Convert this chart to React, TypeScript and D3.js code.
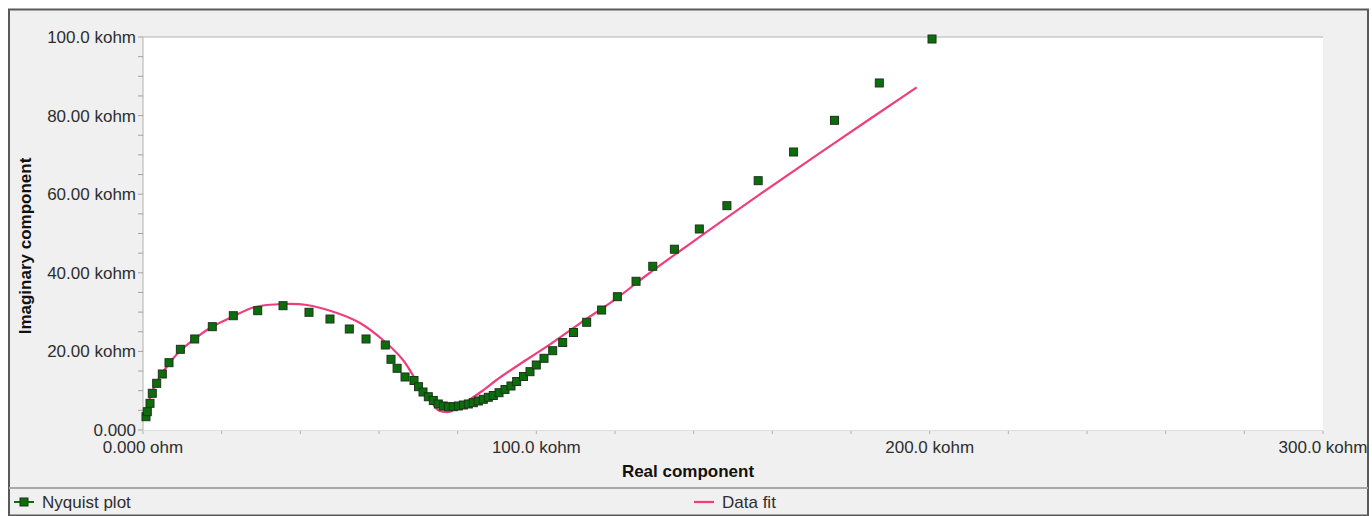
import React from "react";
import * as d3 from "d3";

// Nyquist plot data (kohm)
const nyquistRe = [
  0.76, 1.09, 1.78, 2.36, 3.48, 4.91, 6.61, 9.5, 13.14, 17.62, 22.96, 29.16, 35.6,
  42.2, 47.54, 52.45, 56.7, 61.6, 63.05, 64.6, 66.62, 68.9, 70.05, 71.19, 72.54,
  73.81, 75.08, 76.35, 77.62, 78.9, 80.17, 81.44, 82.71, 83.98, 85.25, 86.52, 87.79,
  89.06, 90.51, 92.03, 93.56, 95.0, 96.73, 98.39, 99.99, 101.95, 104.16, 106.7,
  109.45, 112.8, 116.6, 120.6, 125.35, 129.6, 135.1, 141.44, 148.45, 156.4, 165.4,
  175.8, 187.2, 200.6,
];
const nyquistIm = [
  3.38, 4.66, 6.79, 9.34, 11.88, 14.25, 17.13, 20.53, 23.16, 26.29, 29.08, 30.36, 31.63,
  29.95, 28.24, 25.7, 23.16, 21.63, 17.99, 15.7, 13.49, 12.6, 11.02, 9.67, 8.47,
  7.51, 6.62, 6.11, 5.93, 5.93, 6.11, 6.36, 6.62, 6.95, 7.38, 7.81, 8.32,
  8.78, 9.49, 10.31, 11.2, 12.34, 13.61, 14.84, 16.54, 18.24, 20.18, 22.26,
  24.81, 27.41, 30.53, 33.92, 37.84, 41.65, 46.0, 51.15, 57.08, 63.44, 70.74,
  78.8, 88.3, 99.49,
];

// Data fit curve (kohm)
const fitRe = [
  0.69, 1.27, 2.03, 3.05, 4.58, 6.36, 8.9, 12.46, 17.03, 22.63, 28.47, 35.6, 41.7,
  49.3, 55.17, 61.0, 66.1, 70.4, 72.97, 75.0, 76.27, 78.05, 80.6, 85.68, 90.76,
  95.85, 102.6, 111.1, 119.6, 128.1, 136.5, 145.0, 157.0, 175.5, 196.7,
];
const fitIm = [
  3.31, 6.36, 8.91, 11.45, 13.99, 16.54, 19.59, 22.65, 25.95, 28.75, 31.3, 32.06, 31.81,
  29.77, 27.23, 22.9, 17.81, 11.02, 7.63, 5.09, 4.66, 4.66, 6.11, 9.54, 13.36,
  16.79, 21.2, 27.15, 32.9, 39.44, 45.55, 51.6, 60.1, 72.8, 87.2,
];

const xTickValues = [0, 100, 200, 300];
const xTickLabels = ["0.000 ohm", "100.0 kohm", "200.0 kohm", "300.0 kohm"];
const yTickValues = [0, 20, 40, 60, 80, 100];
const yTickLabels = ["0.000", "20.00 kohm", "40.00 kohm", "60.00 kohm", "80.00 kohm", "100.0 kohm"];

const FONT = "'Liberation Sans', Arial, sans-serif";
const GREEN = "#0b6e0b";
const GREEN_EDGE = "#1f331f";
const PINK = "#ee3f7c";
const FS = 17;

export default function App() {
  const W = 1372;
  const H = 516;
  const m = { left: 143, top: 37, right: 1323, bottom: 430 };
  const x = d3.scaleLinear().domain([0, 300]).range([m.left, m.right]);
  const y = d3.scaleLinear().domain([0, 100]).range([m.bottom, m.top]);

  const fitIdx = d3.range(fitRe.length);
  const line = d3
    .line<number>()
    .x((i) => x(fitRe[i]))
    .y((i) => y(fitIm[i]))
    .curve(d3.curveCatmullRom.alpha(0.5));

  const xMinor = d3.range(0, 301, 20);
  const yMinor = d3.range(0, 101, 5);
  const ms = 8;

  return (
    <svg
      width={W}
      height={H}
      style={{ position: "absolute", left: 0, top: 0, display: "block" }}
      fontFamily={FONT}
    >
      <rect x={0} y={0} width={W} height={H} fill="#ffffff" />
      {/* outer frame */}
      <rect x={9} y={9.5} width={1359} height={506} fill="#f0f0f0" stroke="#5a5a5a" strokeWidth={2} />
      {/* plot area */}
      <rect x={m.left} y={m.top} width={m.right - m.left} height={m.bottom - m.top} fill="#ffffff" />
      <line x1={m.left} x2={m.right} y1={m.top} y2={m.top} stroke="#c8c8c8" strokeWidth={1.5} />
      <line x1={m.left} x2={m.left} y1={m.top} y2={m.bottom} stroke="#c8c8c8" strokeWidth={1.5} />
      <line x1={m.left} x2={m.right} y1={m.bottom + 0.5} y2={m.bottom + 0.5} stroke="#dedede" strokeWidth={1} />

      {/* y minor ticks */}
      {yMinor.map((v) => (
        <line key={"yt" + v} x1={m.left - 5} x2={m.left} y1={y(v)} y2={y(v)} stroke="#a0a0a0" strokeWidth={1} />
      ))}
      {/* x minor ticks */}
      {xMinor.map((v) => (
        <line key={"xt" + v} x1={x(v)} x2={x(v)} y1={m.bottom + 1} y2={m.bottom + 4} stroke="#b0b0b0" strokeWidth={1} />
      ))}

      {/* y tick labels */}
      {yTickValues.map((v, i) => (
        <text key={"yl" + v} x={m.left - 7} y={y(v) + 6} textAnchor="end" fontSize={FS} fill="#2e2e2e">
          {yTickLabels[i]}
        </text>
      ))}
      {/* x tick labels */}
      {xTickValues.map((v, i) => (
        <text key={"xl" + v} x={x(v)} y={453} textAnchor="middle" fontSize={FS} fill="#2e2e2e">
          {xTickLabels[i]}
        </text>
      ))}

      {/* axis titles */}
      <text x={688} y={477} textAnchor="middle" fontSize={FS} fontWeight="bold" fill="#111">
        Real component
      </text>
      <text
        transform={`translate(31,246) rotate(-90)`}
        textAnchor="middle"
        fontSize={FS}
        fontWeight="bold"
        fill="#111"
      >
        Imaginary component
      </text>

      {/* fit line */}
      <path d={line(fitIdx) || ""} fill="none" stroke={PINK} strokeWidth={2.2} />

      {/* nyquist points */}
      {nyquistRe.map((re, i) => (
        <rect
          key={"p" + i}
          x={x(re) - ms / 2}
          y={y(nyquistIm[i]) - ms / 2}
          width={ms}
          height={ms}
          fill={GREEN}
          stroke={GREEN_EDGE}
          strokeWidth={1}
        />
      ))}

      {/* legend */}
      <line x1={9} x2={1368} y1={488} y2={488} stroke="#a8a8a8" strokeWidth={2} />
      <line x1={14} x2={34} y1={502} y2={502} stroke={GREEN} strokeWidth={2} />
      <rect x={20} y={498} width={8} height={8} fill={GREEN} stroke={GREEN_EDGE} strokeWidth={1} />
      <text x={42} y={508} fontSize={FS} fill="#2e2e2e">
        Nyquist plot
      </text>
      <line x1={694} x2={714} y1={502} y2={502} stroke={PINK} strokeWidth={2.2} />
      <text x={722} y={508} fontSize={FS} fill="#2e2e2e">
        Data fit
      </text>
    </svg>
  );
}
